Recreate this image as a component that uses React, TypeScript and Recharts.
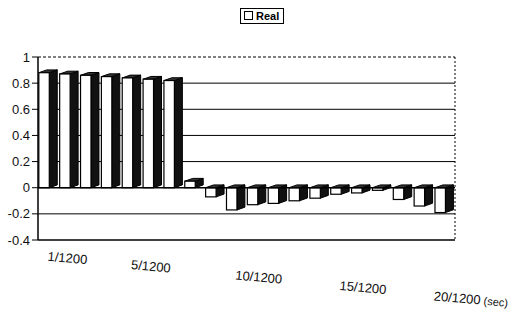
import { BarChart, Bar, XAxis, YAxis, CartesianGrid, Legend, ReferenceLine } from "recharts";

const categories = [
  "1/1200", "2/1200", "3/1200", "4/1200", "5/1200",
  "6/1200", "7/1200", "8/1200", "9/1200", "10/1200",
  "11/1200", "12/1200", "13/1200", "14/1200", "15/1200",
  "16/1200", "17/1200", "18/1200", "19/1200", "20/1200",
];
const realValues = [
  0.88, 0.87, 0.86, 0.85, 0.84, 0.83, 0.82, 0.05, -0.07, -0.17,
  -0.13, -0.12, -0.1, -0.08, -0.05, -0.04, -0.02, -0.09, -0.14, -0.19,
];
const shownTicks = ["1/1200", "5/1200", "10/1200", "15/1200", "20/1200"];
const yTicks = [-0.4, -0.2, 0, 0.2, 0.4, 0.6, 0.8, 1];
const solidGrid = [-0.2, 0.2, 0.4, 0.6, 0.8];

const data = categories.map((t, i) => ({ t, Real: realValues[i] }));

const FONT = "'Liberation Sans', Arial, sans-serif";

// fake 3D box: white front face, dark side and top
function BoxBar(props: any) {
  const { x, y, width, height } = props;
  const top = Math.min(y, y + height);
  const h = Math.abs(height);
  const w = width * 0.55;
  const d = width * 0.42;
  const dy = d * 0.35;
  return (
    <g>
      <polygon
        points={`${x + w},${top} ${x + w + d},${top - dy} ${x + w + d},${top + h - dy} ${x + w},${top + h}`}
        fill="#111"
        stroke="#000"
      />
      <polygon
        points={`${x},${top} ${x + d},${top - dy} ${x + w + d},${top - dy} ${x + w},${top}`}
        fill="#333"
        stroke="#000"
      />
      <rect x={x} y={top} width={w} height={h} fill="#fff" stroke="#000" strokeWidth={1.2} />
    </g>
  );
}

function SlopedTick(props: any) {
  const { x, y, payload } = props;
  if (!shownTicks.includes(payload.value)) return null;
  const last = payload.value === "20/1200";
  const drop = (x - 50) * 0.1;
  const tx = last ? x - 10 : x;
  return (
    <text
      x={tx}
      y={y + drop}
      dy={13}
      textAnchor="start"
      fontSize={13}
      fontFamily={FONT}
      fill="#111"
      transform={`rotate(5 ${tx} ${y + drop})`}
    >
      {payload.value}
      {last && <tspan fontSize={11}> (sec)</tspan>}
    </text>
  );
}

function LegendBox() {
  return (
    <div style={{ paddingLeft: 240 }}>
      <div
        style={{
          border: "1.5px solid #000",
          padding: "0px 4px 0px 3px",
          fontFamily: FONT,
          fontSize: 11,
          fontWeight: "bold",
          display: "inline-flex",
          alignItems: "center",
          gap: 3,
          height: 14,
        }}
      >
        <span style={{ width: 7, height: 7, border: "1.5px solid #000", display: "inline-block" }} />
        Real
      </div>
    </div>
  );
}

export default function App() {
  return (
    <div style={{ position: "absolute", left: 0, top: 0, width: 521, height: 313, background: "#fff" }}>
      <BarChart
        width={521}
        height={313}
        data={data}
        margin={{ top: 39, right: 66, left: 0, bottom: 43 }}
        barCategoryGap="4%"
      >
        <CartesianGrid horizontalValues={solidGrid} vertical={false} stroke="#000" strokeWidth={1} />
        {/* dotted back wall on the right */}
        <CartesianGrid
          horizontal={false}
          verticalCoordinatesGenerator={({ offset }: any) => [offset.left + offset.width]}
          stroke="#000"
          strokeDasharray="2 2"
        />
        <XAxis
          dataKey="t"
          interval={0}
          tick={<SlopedTick />}
          tickLine={false}
          axisLine={{ stroke: "#000", strokeWidth: 1.5 }}
          height={30}
        />
        <YAxis
          domain={[-0.4, 1]}
          ticks={yTicks}
          width={38}
          tick={{ fontSize: 13, fontFamily: FONT, fill: "#111" }}
          tickLine={{ stroke: "#000" }}
          axisLine={{ stroke: "#000", strokeWidth: 1.5 }}
        />
        <ReferenceLine y={1} stroke="#000" strokeDasharray="3 2" />
        <ReferenceLine y={0} stroke="#000" strokeWidth={1.5} />
        <Legend verticalAlign="top" align="left" content={<LegendBox />} wrapperStyle={{ top: 6, left: 0 }} />
        <Bar dataKey="Real" shape={<BoxBar />} isAnimationActive={false} />
      </BarChart>
    </div>
  );
}
